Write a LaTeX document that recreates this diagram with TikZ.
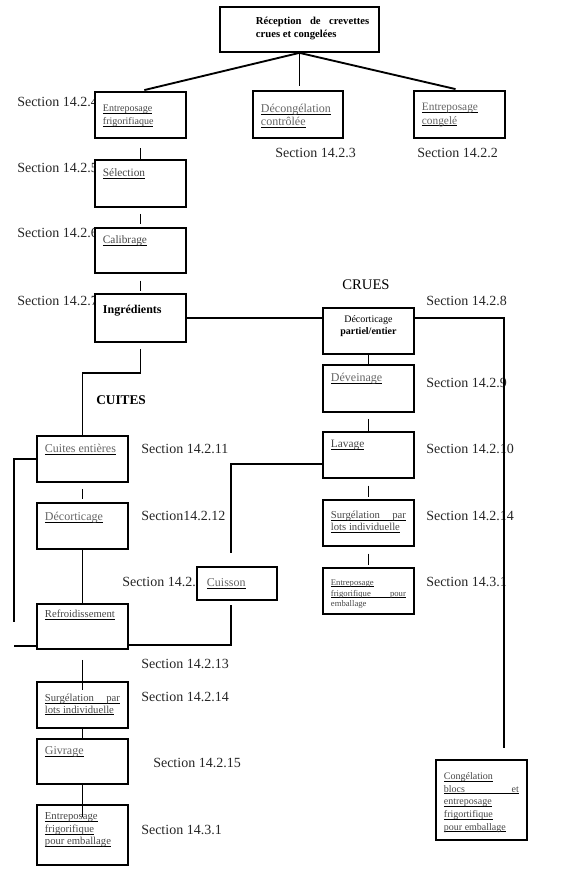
\documentclass[tikz,border=0pt]{standalone}
\usepackage{fontspec}
\setmainfont{Liberation Serif}
\newlength{\upx}\setlength{\upx}{0.75pt}
\newcommand{\souligne}[1]{\leavevmode\setbox0=\hbox{#1}\rlap{\color{black}\rule[-1.6pt]{\wd0}{0.65pt}}\box0}
\newcommand{\ligne}[1]{\souligne{\hbox to\linewidth{#1}}}
\newcommand{\etape}[4]{\parbox[c][#2\upx][t]{\dimexpr#1\upx-16\upx\relax}{\vspace*{#3\upx}#4}}
\tikzset{
  etape/.style={draw, line width=1.4pt, fill=white, anchor=north west, inner xsep=6pt, inner ysep=0pt,
    text=black!72, font=\fontsize{9}{10}\selectfont},
  section/.style={anchor=west, inner sep=0pt, text=black!85, font=\fontsize{10.5}{12}\selectfont},
  lien/.style={line width=1.4pt}
}
\begin{document}
\begin{tikzpicture}[x=0.75pt, y=-0.75pt]
		\useasboundingbox (0,0) rectangle (568,880);
		% numéros de section
		\node[section] (s4) at (17,102) {Section 14.2.4};
		\node[section] (s3) at (275,153) {Section 14.2.3};
		\node[section] (s2) at (417,153) {Section 14.2.2};
		\node[section] (s5) at (17,168) {Section 14.2.5};
		\node[section] (s6) at (17,233) {Section 14.2.6};
		\node[section] (s7) at (17,301) {Section 14.2.7};
		\node[section] (s8) at (426,301) {Section 14.2.8};
		\node[section] (s9) at (426,383) {Section 14.2.9};
		\node[section] (s11) at (141,449) {Section 14.2.11};
		\node[section] (s10) at (426,449) {Section 14.2.10};
		\node[section] (s12) at (141,516) {Section14.2.12};
		\node[section] (s14cr) at (426,516) {Section 14.2.14};
		\node[section] (scuis) at (122,582) {Section 14.2.};
		\node[section] (s31cr) at (426,582) {Section 14.3.1};
		\node[section] (s13) at (141,664) {Section 14.2.13};
		\node[section] (s14cu) at (141,697) {Section 14.2.14};
		\node[section] (s15) at (153,763) {Section 14.2.15};
		\node[section] (s31cu) at (141,830) {Section 14.3.1};
		\node[font=\fontsize{11}{12}\selectfont] (crues) at (366,285) {CRUES};
		\node[anchor=west, inner sep=0pt, font=\bfseries\fontsize{10}{12}\selectfont] (cuit) at (96,400) {CUITES};
		
		% étapes
		\node[etape, text=black, font=\bfseries\fontsize{8}{10}\selectfont] (recep) at (219,6) {\etape{159}{45}{10}{\hspace*{28\upx}\hbox to 85pt{Réception\hfill de\hfill crevettes}\\\hspace*{28\upx}crues et congelées}};
		\node[etape, font=\fontsize{7.5}{10}\selectfont] (stockfr) at (94,91) {\etape{91}{46}{13}{\souligne{Entreposage}\\\souligne{frigorifiaque}}};
		\node[etape, text=black!60] (decong) at (252,90) {\etape{90}{47}{13}{\souligne{Décongélation}\\\souligne{contrôlée}}};
		\node[etape, text=black!60, font=\fontsize{8.5}{10}\selectfont] (stockcg) at (413,90) {\etape{91}{47}{12.5}{\souligne{Entreposage}\\\souligne{congelé}}};
		\node[etape, font=\fontsize{8.5}{10}\selectfont] (selec) at (94,159) {\etape{91}{47}{9}{\souligne{Sélection}}};
		\node[etape, font=\fontsize{8.5}{10}\selectfont] (calib) at (94,227) {\etape{91}{45}{7.5}{\souligne{Calibrage}}};
		\node[etape, text=black, font=\bfseries\fontsize{9}{10}\selectfont] (ingr) at (94,293) {\etape{91}{48}{11.5}{Ingrédients}};
		\node[etape, text=black, font=\fontsize{7.5}{8.75}\selectfont] (deco) at (322,307) {\etape{91}{46}{8}{\centering Décorticage\\\textbf{partiel/entier}}};
		\node[etape, text=black!60] (devein) at (322,364) {\etape{91}{47}{8}{\souligne{Déveinage}}};
		\node[etape, font=\fontsize{8.5}{10}\selectfont] (lavage) at (322,431) {\etape{91}{46}{8}{\souligne{Lavage}}};
		\node[etape, font=\fontsize{8}{8.75}\selectfont] (surgcr) at (322,499) {\etape{91}{46}{11.5}{\ligne{Surgélation\hfill par}\\\souligne{lots individuelle}}};
		\node[etape, font=\fontsize{6.5}{8.2}\selectfont] (stockcr) at (322,567) {\etape{91}{46}{11.5}{\souligne{Entreposage}\\\ligne{frigorifique\hfill pour}\\emballage}};
		\node[etape, text=black!60] (cuites) at (36,435) {\etape{91}{46}{8.5}{\souligne{Cuites entières}}};
		\node[etape, text=black!60] (decort) at (36,502) {\etape{91}{46}{9}{\souligne{Décorticage}}};
		\node[etape, text=black!60] (cuisson) at (196,566) {\etape{80}{33}{12}{\hspace*{2\upx}\souligne{Cuisson}}};
		\node[etape, font=\fontsize{8}{10}\selectfont] (refroid) at (36,603) {\etape{91}{45}{6}{\souligne{Refroidissement}}};
		\node[etape, font=\fontsize{8}{8.75}\selectfont] (surgcu) at (36,681) {\etape{91}{46}{12}{\ligne{Surgélation\hfill par}\\\souligne{lots individuelle}}};
		\node[etape, text=black!60] (givrage) at (36,738) {\etape{91}{45}{8}{\souligne{Givrage}}};
		\node[etape, font=\fontsize{8}{9.4}\selectfont] (stockcu) at (36,804) {\etape{91}{60}{8}{\souligne{Entreposage}\\\souligne{frigorifique}\\\souligne{pour emballage}}};
		\node[etape, font=\fontsize{7.5}{9.5}\selectfont] (congel) at (435,759) {\etape{91}{80}{12.5}{\souligne{Congélation}\\\ligne{blocs\hfill et}\\\souligne{entreposage}\\\souligne{frigortifique}\\\souligne{pour emballage}}};
		
		\coordinate (gh) at (14,622);
		\coordinate (gb) at (14,646);
		\coordinate (cuih) at (231,553);
		\coordinate (cuib) at (231,605);
		\coordinate (cbas) at (504,748);
		
		% liaisons
		\draw[lien, shorten >=3pt] (recep.south) -- (stockfr.north);
		\draw[lien, shorten >=3pt] (recep.south) -- (recep.south |- decong.north);
		\draw[lien, shorten >=3pt] (recep.south) -- (stockcg.north);
		\draw[lien, shorten <=7pt] (stockfr.south) -- (selec.north);
		\draw[lien, shorten <=4.5pt, shorten >=2pt] (selec.south) -- (calib.north);
		\draw[lien, shorten <=5pt, shorten >=1.5pt] (calib.south) -- (ingr.north);
		\draw[lien, shorten <=4.5pt] (ingr.south) -- ++(0,30) -| (cuites.north);
		\draw[lien, shorten <=4.5pt, shorten >=2pt] (cuites.south) -- (decort.north);
		\draw[lien] (decort.south) -- (refroid.north);
		\draw[lien, shorten <=7.5pt, shorten >=-7pt] (refroid.south) -- (surgcu.north);
		\draw[lien] (surgcu.south) -- (givrage.north);
		\draw[lien, shorten >=-10pt] (givrage.south) -- (stockcu.north);
		\draw[lien] (cuites.west) -| (gh);
		\draw[lien] (gb) -- (gb -| refroid.west);
		\draw[lien] ([yshift=-6.5pt]lavage.west) -| (cuih);
		\draw[lien] (cuib) |- ([yshift=3.5pt]refroid.south east);
		\draw[lien] (ingr.east) -- (ingr.east -| deco.west);
		\draw[lien] (ingr.east -| deco.east) -| (cbas);
		\draw[lien] (deco.south) -- (devein.north);
		\draw[lien, shorten <=4.5pt] (devein.south) -- (lavage.north);
		\draw[lien, shorten <=5pt, shorten >=1.5pt] (lavage.south) -- (surgcr.north);
		\draw[lien, shorten <=5pt, shorten >=1.5pt] (surgcr.south) -- (stockcr.north);
\end{tikzpicture}
\end{document}
